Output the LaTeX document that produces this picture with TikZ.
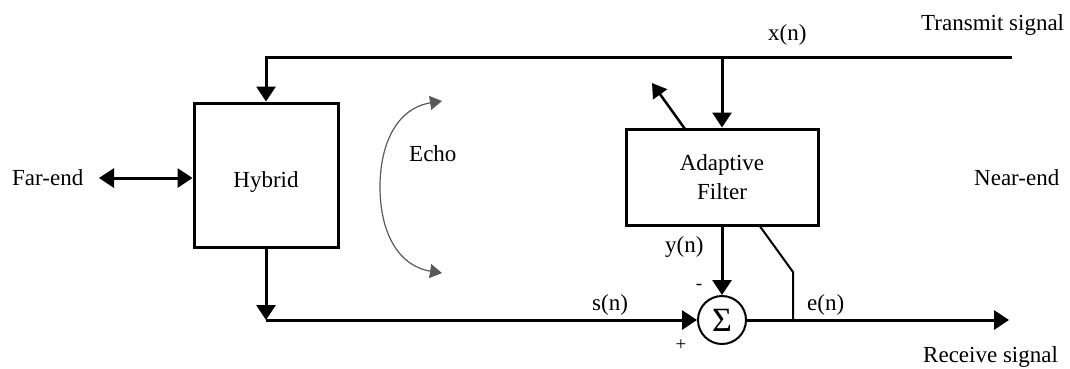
\documentclass[tikz,border=0pt]{standalone}
\usepackage{fontspec}
\setmainfont{Liberation Serif}
\usetikzlibrary{arrows.meta}
\begin{document}
\begin{tikzpicture}[x=1pt,y=-1pt,
  lbl/.style={font=\fontsize{23}{29.5}\selectfont, inner sep=0pt, anchor=base west},
  small/.style={font=\fontsize{19}{21}\selectfont, inner sep=0pt},
  blk/.style={draw, line width=3pt, inner sep=0pt, font=\fontsize{23}{29.5}\selectfont, align=center},
  arr/.style={line width=3pt, line join=miter, -{Triangle[length=15pt,width=19pt]}},
  darr/.style={line width=3pt, {Triangle[length=15pt,width=19pt]}-{Triangle[length=15pt,width=19pt]}},
  wire/.style={line width=2pt},
  echo/.style={line width=1.2pt, draw=black!65, {Triangle[length=12pt,width=14pt,fill=black!65]}-{Triangle[length=12pt,width=14pt,fill=black!65]}}]
\useasboundingbox (0,0) rectangle (1070,368);

% blocks
\node[blk, minimum width=144pt, minimum height=144pt, text height=24pt, text depth=0pt] (hyb) at (266,175) {Hybrid};
\node[blk, minimum width=192pt, minimum height=96pt] (af) at (722,177) {Adaptive\\Filter};
\node[draw, circle, line width=2pt, minimum size=48pt, inner sep=0pt, font=\fontsize{34}{34}\selectfont] (sum) at (722,320) {Σ};

% coordinates
\coordinate (tr) at (1012,57);
\coordinate (tl) at (266,57);
\coordinate (fe) at (99,178);
\coordinate (bl) at (266,320);
\coordinate (out) at (1009,320);
\coordinate (k) at (793,320);
\coordinate (kb) at (793,272);
\coordinate (ka) at (759,225);
\coordinate (da) at (685,129);
\coordinate (db) at (652,83);
\coordinate (eT) at (442,101);
\coordinate (eB) at (442,273);
\coordinate (eL) at (380,187);

% connectors
\draw[arr] (tr) -- (tl) -- (hyb.north);
\draw[arr] (af.north |- tr) -- (af.north);
\draw[darr] (fe) -- (fe -| hyb.west);
\draw[arr] (hyb.south) -- (bl);
\draw[arr] (bl) -- (sum.west);
\draw[arr] (af.south) -- (sum.north);
\draw[arr] (sum.east) -- (out);
\draw[wire] (k) -- (kb) -- (ka);
\draw[line width=2.5pt, -{Triangle[length=14pt,width=17pt]}] (da) -- (db);
\draw[echo] (eB) .. controls (398,266) and (380,232) .. (eL) .. controls (380,142) and (398,108) .. (eT);

% labels
\node[lbl] (lfe) at (12,185) {Far-end};
\node[lbl] (lecho) at (409,161.5) {Echo};
\node[lbl] (lx) at (768,40) {x(n)};
\node[lbl] (lts) at (921,30) {Transmit signal};
\node[lbl] (lne) at (974,185) {Near-end};
\node[lbl] (lrs) at (923,362) {Receive signal};
\node[lbl] (ly) at (665,252.5) {y(n)};
\node[lbl] (ls) at (592,310) {s(n)};
\node[lbl] (le) at (807,310) {e(n)};
\node[small] (lminus) at (699,287) {-};
\node[small] (lplus) at (681,345) {+};
\end{tikzpicture}
\end{document}
